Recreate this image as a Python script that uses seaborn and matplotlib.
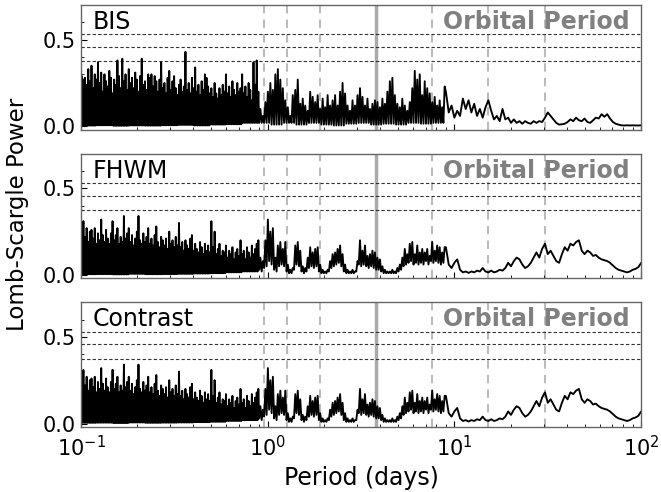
import numpy as np
import pandas as pd
import matplotlib
matplotlib.use("Agg")
import matplotlib.pyplot as plt
import seaborn as sns
from matplotlib.ticker import MultipleLocator, LogLocator, NullFormatter

# ---------------- data ----------------
panel_names = ["BIS", "FHWM", "Contrast"]
orbital_period = 3.8
alias_periods = [0.95, 1.27, 1.9, 7.6, 15.2, 30.4]
fap_levels = [0.375, 0.458, 0.53]

# BIS: dense short-period part (peaks, 0.1-0.9 d)
bis_dense_peaks = [
    0.29, 0.27, 0.28, 0.24, 0.33, 0.26, 0.35, 0.22, 0.30, 0.27,
    0.37, 0.25, 0.31, 0.20, 0.30, 0.26, 0.23, 0.32, 0.28, 0.19,
    0.27, 0.24, 0.38, 0.29, 0.22, 0.39, 0.26, 0.30, 0.21, 0.33,
    0.25, 0.28, 0.22, 0.31, 0.27, 0.20, 0.29, 0.39, 0.24, 0.26,
    0.21, 0.30, 0.28, 0.30, 0.23, 0.29, 0.26, 0.20, 0.27, 0.37,
    0.22, 0.25, 0.19, 0.28, 0.32, 0.21, 0.26, 0.29, 0.22, 0.18,
    0.24, 0.27, 0.20, 0.23, 0.43, 0.21, 0.25, 0.19, 0.28, 0.22,
    0.34, 0.20, 0.24, 0.18, 0.26, 0.21, 0.30, 0.28, 0.23, 0.19,
    0.22, 0.17, 0.25, 0.19, 0.16, 0.22, 0.18, 0.24, 0.20, 0.30,
    0.19, 0.23, 0.17, 0.26, 0.21, 0.18, 0.25, 0.20, 0.22, 0.30,
    0.19, 0.23, 0.17, 0.25, 0.21, 0.15, 0.37, 0.24, 0.38, 0.20,
]
bis_dense_floor = [0.004, 0.006, 0.003, 0.005, 0.004, 0.006, 0.008, 0.005, 0.01, 0.012, 0.02]
# BIS: intermediate part (peaks, 0.9-9 d)
bis_mid_peaks = [
    0.10, 0.06, 0.14, 0.20, 0.25, 0.21, 0.30, 0.33, 0.27, 0.22,
    0.15, 0.11, 0.06, 0.18, 0.21, 0.27, 0.13, 0.16, 0.12, 0.09,
    0.20, 0.17, 0.14, 0.18, 0.10, 0.16, 0.11, 0.18, 0.12, 0.15,
    0.18, 0.12, 0.20, 0.25, 0.19, 0.12, 0.09, 0.15, 0.12, 0.18,
    0.22, 0.17, 0.12, 0.16, 0.10, 0.13, 0.15, 0.14, 0.11, 0.16,
    0.13, 0.20, 0.26, 0.28, 0.18, 0.13, 0.11, 0.16, 0.12, 0.09,
    0.14, 0.22, 0.32, 0.27, 0.30, 0.18, 0.26, 0.22, 0.19, 0.14,
    0.17, 0.12, 0.15, 0.11, 0.23,
]
bis_mid_troughs = [0.02, 0.01, 0.02, 0.01, 0.02, 0.01, 0.005, 0.015,
                   0.02, 0.01, 0.015, 0.01, 0.02, 0.015, 0.02]
# BIS: long-period tail (9-100 d)
bis_tail = [
    0.20, 0.08, 0.12, 0.05, 0.09, 0.06, 0.16, 0.10, 0.15, 0.08,
    0.13, 0.06, 0.10, 0.05, 0.11, 0.15, 0.09, 0.04, 0.06, 0.03,
    0.10, 0.04, 0.05, 0.02, 0.04, 0.02, 0.03, 0.015, 0.03, 0.02,
    0.015, 0.03, 0.02, 0.03, 0.025, 0.05, 0.08, 0.06, 0.04, 0.02,
    0.01, 0.012, 0.015, 0.025, 0.04, 0.03, 0.05, 0.035, 0.03, 0.045,
    0.025, 0.02, 0.035, 0.05, 0.045, 0.07, 0.055, 0.07, 0.045, 0.025,
    0.015, 0.01, 0.006, 0.005, 0.006, 0.005, 0.006, 0.005, 0.005, 0.006,
]

# FWHM
fwhm_dense_peaks = [
    0.24, 0.31, 0.22, 0.27, 0.19, 0.25, 0.26, 0.21, 0.27, 0.18,
    0.24, 0.20, 0.32, 0.23, 0.19, 0.26, 0.21, 0.18, 0.24, 0.31,
    0.20, 0.23, 0.27, 0.18, 0.22, 0.19, 0.34, 0.21, 0.24, 0.27,
    0.19, 0.23, 0.17, 0.21, 0.25, 0.34, 0.20, 0.18, 0.24, 0.19,
    0.22, 0.27, 0.18, 0.21, 0.17, 0.23, 0.28, 0.19, 0.16, 0.22,
    0.20, 0.17, 0.21, 0.15, 0.25, 0.18, 0.20, 0.16, 0.22, 0.17,
    0.30, 0.16, 0.19, 0.14, 0.20, 0.17, 0.15, 0.21, 0.23, 0.14,
    0.18, 0.15, 0.13, 0.19, 0.16, 0.12, 0.18, 0.14, 0.17, 0.13,
    0.31, 0.16, 0.25, 0.12, 0.15, 0.18, 0.11, 0.14, 0.13, 0.17,
    0.10, 0.14, 0.12, 0.16, 0.09, 0.13, 0.15, 0.11, 0.20, 0.12,
    0.14, 0.09, 0.16, 0.13, 0.10, 0.17, 0.12, 0.15, 0.18, 0.20,
]
fwhm_dense_floor = [0.004, 0.005, 0.003, 0.006, 0.004, 0.005, 0.006, 0.008, 0.01, 0.015, 0.02]
fwhm_mid_peaks = [
    0.10, 0.08, 0.20, 0.32, 0.25, 0.27, 0.10, 0.17, 0.19, 0.15,
    0.19, 0.06, 0.03, 0.04, 0.17, 0.19, 0.14, 0.05, 0.04, 0.10,
    0.16, 0.13, 0.15, 0.16, 0.06, 0.03, 0.02, 0.03, 0.08, 0.12,
    0.13, 0.15, 0.17, 0.12, 0.06, 0.03, 0.02, 0.03, 0.02, 0.08,
    0.20, 0.14, 0.17, 0.11, 0.12, 0.14, 0.13, 0.10, 0.09, 0.05,
    0.03, 0.02, 0.02, 0.03, 0.02, 0.04, 0.06, 0.10, 0.15, 0.12,
    0.18, 0.19, 0.12, 0.17, 0.13, 0.15, 0.13, 0.15, 0.11, 0.19,
    0.14, 0.17, 0.16, 0.13, 0.16,
]
fwhm_mid_troughs = [
    0.03, 0.02, 0.04, 0.05, 0.08, 0.06, 0.03, 0.02, 0.05, 0.06,
    0.05, 0.02, 0.01, 0.01, 0.03, 0.06, 0.05, 0.02, 0.01, 0.02,
    0.04, 0.05, 0.04, 0.05, 0.02, 0.01, 0.01, 0.01, 0.02, 0.04,
    0.05, 0.06, 0.07, 0.05, 0.02, 0.01, 0.01, 0.01, 0.01, 0.02,
    0.06, 0.05, 0.06, 0.05, 0.04, 0.05, 0.04, 0.03, 0.03, 0.02,
    0.01, 0.01, 0.01, 0.01, 0.01, 0.01, 0.02, 0.03, 0.05, 0.06,
    0.07, 0.08, 0.06, 0.07, 0.06, 0.07, 0.06, 0.08, 0.06, 0.08,
    0.07, 0.08, 0.07, 0.06, 0.07,
]
fwhm_tail = [
    0.16, 0.06, 0.04, 0.07, 0.09, 0.03, 0.015, 0.02, 0.012, 0.02,
    0.015, 0.025, 0.02, 0.04, 0.02, 0.015, 0.025, 0.015, 0.02, 0.03,
    0.025, 0.04, 0.07, 0.05, 0.08, 0.10, 0.09, 0.06, 0.04, 0.05,
    0.07, 0.10, 0.13, 0.10, 0.15, 0.18, 0.12, 0.14, 0.11, 0.08,
    0.07, 0.12, 0.16, 0.14, 0.18, 0.17, 0.19, 0.20, 0.14, 0.12,
    0.14, 0.13, 0.11, 0.115, 0.10, 0.09, 0.085, 0.08, 0.07, 0.055,
    0.04, 0.03, 0.025, 0.02, 0.015, 0.02, 0.03, 0.035, 0.045, 0.07,
]

# Contrast periodogram is indistinguishable from the FWHM one in the figure
contrast_dense_peaks = list(fwhm_dense_peaks)
contrast_dense_floor = list(fwhm_dense_floor)
contrast_mid_peaks = list(fwhm_mid_peaks)
contrast_mid_troughs = list(fwhm_mid_troughs)
contrast_tail = list(fwhm_tail)

# ---------------- assemble ----------------
def build(name, dpeaks, dfloor, mpeaks, mtroughs, tail):
    dfl = np.repeat(dfloor, 10)[:len(dpeaks)]
    dense = np.column_stack((dfl, dpeaks)).ravel()
    mtr = np.asarray(mtroughs)
    if len(mtr) != len(mpeaks):
        mtr = np.repeat(mtr, 5)[:len(mpeaks)]
    mid = np.column_stack((mtr, mpeaks)).ravel()
    p_dense = np.geomspace(0.1, 0.9, len(dense), endpoint=False)
    p_mid = np.geomspace(0.9, 9.0, len(mid), endpoint=False)
    p_tail = np.geomspace(9.0, 100.0, len(tail))
    return pd.DataFrame({
        "period": np.concatenate([p_dense, p_mid, p_tail]),
        "power": np.concatenate([dense, mid, np.asarray(tail)]),
        "panel": name,
    })

df = pd.concat([
    build("BIS", bis_dense_peaks, bis_dense_floor, bis_mid_peaks, bis_mid_troughs, bis_tail),
    build("FHWM", fwhm_dense_peaks, fwhm_dense_floor, fwhm_mid_peaks, fwhm_mid_troughs, fwhm_tail),
    build("Contrast", contrast_dense_peaks, contrast_dense_floor, contrast_mid_peaks,
          contrast_mid_troughs, contrast_tail),
], ignore_index=True)

# ---------------- plot ----------------
sns.set_style("ticks")
plt.rcParams["font.family"] = ["DejaVu Sans"]
plt.rcParams["text.color"] = "black"
plt.rcParams["axes.labelcolor"] = "black"

fig, axes = plt.subplots(3, 1, figsize=(6.61, 4.92), dpi=100, sharex=True)
fig.subplots_adjust(left=0.1225, right=0.97, top=0.99, bottom=0.132, hspace=0.19)

for ax, name in zip(axes, panel_names):
    sub = df[df["panel"] == name]
    sns.lineplot(data=sub, x="period", y="power", ax=ax, color="black",
                 linewidth=1.35, estimator=None, sort=False)
    for lvl in fap_levels:
        ax.axhline(lvl, color="#333333", linestyle=(0, (3, 2)), linewidth=0.8, zorder=1)
    for p in alias_periods:
        ax.axvline(p, color="#bbbbbb", linestyle=(0, (4, 3)), linewidth=1.5, zorder=0)
    ax.axvline(orbital_period, color="#aaaaaa", linestyle="-", linewidth=2.5, zorder=0)
    ax.set_xscale("log")
    ax.set_xlim(0.1, 100)
    ax.set_ylim(-0.02, 0.70)
    ax.yaxis.set_major_locator(MultipleLocator(0.5))
    ax.yaxis.set_minor_locator(MultipleLocator(0.1))
    ax.xaxis.set_major_locator(LogLocator(base=10))
    ax.xaxis.set_minor_locator(LogLocator(base=10, subs=np.arange(2, 10)))
    ax.xaxis.set_minor_formatter(NullFormatter())
    ax.tick_params(axis="both", which="both", direction="in", labelsize=15,
                   colors="black", labelcolor="black")
    ax.tick_params(axis="both", which="major", length=4)
    ax.tick_params(axis="both", which="minor", length=2.5)
    ax.tick_params(axis="x", which="major", pad=6)
    for s in ax.spines.values():
        s.set_color("#666666")
        s.set_linewidth(1.0)
    ax.set_xlabel("")
    ax.set_ylabel("")
    ax.text(0.02, 0.96, name, transform=ax.transAxes, ha="left", va="top",
            fontsize=17, color="black")
    ax.text(0.98, 0.96, "Orbital Period", transform=ax.transAxes, ha="right", va="top",
            fontsize=17, fontweight="bold", color="#808080")

axes[-1].set_xlabel("Period (days)", fontsize=17, color="black")
fig.text(0.027, 0.565, "Lomb-Scargle Power", rotation=90, ha="center", va="center",
         fontsize=16.5, color="black")

fig.savefig("out.png", dpi=100, facecolor="white")
